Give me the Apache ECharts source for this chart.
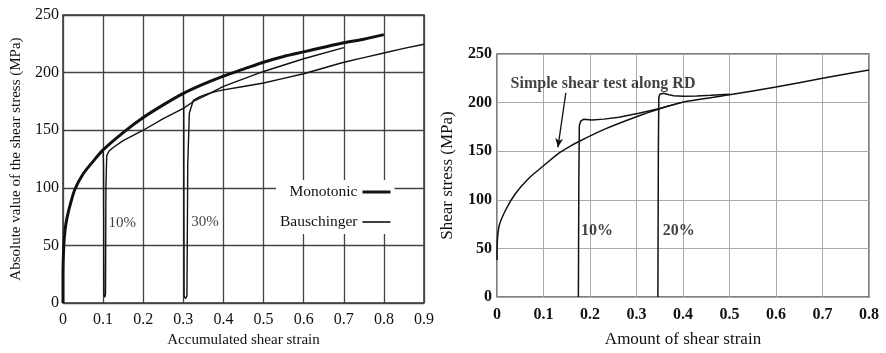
<!DOCTYPE html>
<html>
<head>
<meta charset="utf-8">
<script src="https://cdn.jsdelivr.net/npm/echarts@6/dist/echarts.min.js"></script>
<style>
html,body{margin:0;padding:0;background:#fff;}
#c{width:886px;height:353px;}
</style>
</head>
<body>
<div id="c"></div>
<script>
// ---------- Left panel: accumulated shear strain vs |shear stress| ----------
const leftXTicks = ['0','0.1','0.2','0.3','0.4','0.5','0.6','0.7','0.8','0.9'];
const leftMonoStrain = [0, 0, 0.002, 0.005, 0.01, 0.02, 0.03, 0.05, 0.075, 0.1, 0.15, 0.2, 0.25, 0.3, 0.35, 0.4, 0.45, 0.5, 0.55, 0.6, 0.65, 0.7, 0.75, 0.8];
const leftMonoStress = [0, 25, 50, 63, 74, 88, 99, 112, 123, 133, 148, 161, 172, 182, 190, 197, 203, 209, 214, 218, 222, 226, 229, 233];
const leftB10Strain = [0.1, 0.101, 0.102, 0.104, 0.106, 0.107, 0.109, 0.115, 0.125, 0.15, 0.2, 0.25, 0.3, 0.33, 0.36, 0.4, 0.5, 0.6, 0.7];
const leftB10Stress = [133, 120, 8, 5, 8, 100, 128, 132, 135, 141, 150, 160, 169, 176, 181, 188, 201, 212, 221.7];
const leftB30Strain = [0.3, 0.301, 0.302, 0.305, 0.309, 0.311, 0.315, 0.325, 0.34, 0.36, 0.38, 0.4, 0.45, 0.5, 0.55, 0.6, 0.65, 0.7, 0.75, 0.8, 0.85, 0.9];
const leftB30Stress = [182, 170, 6, 4, 6, 120, 165, 176, 179, 181.5, 183.5, 185, 188, 191, 195, 199, 204, 209, 213, 217, 221, 224.6];

// ---------- Right panel: amount of shear strain vs shear stress ----------
const rightMonoStrain = [0, 0, 0.004, 0.018, 0.039, 0.068, 0.1, 0.133, 0.155, 0.176, 0.233, 0.297, 0.348, 0.4, 0.5, 0.6, 0.7, 0.8];
const rightMonoStress = [38, 45, 72, 89, 106, 122, 135, 148, 154.5, 160, 173, 185, 193.5, 200.5, 208, 216, 225, 233.5];
const right10Strain = [0.175, 0.176, 0.177, 0.18, 0.186, 0.204, 0.23, 0.262, 0.305, 0.35, 0.4];
const right10Stress = [0, 120, 176, 181, 182.8, 182, 183, 185, 189, 194, 200.5];
const right20Strain = [0.346, 0.347, 0.348, 0.35, 0.358, 0.37, 0.38, 0.4, 0.43, 0.46, 0.5];
const right20Stress = [0, 150, 205, 208.5, 209.7, 208, 207, 206.5, 206.8, 207.5, 208.5];

const zip = (a, b) => a.map((v, i) => [v, b[i]]);
const SERIF = "'Liberation Serif', 'DejaVu Serif', serif";
const INK = '#111';

const chart = echarts.init(document.getElementById('c'), null, {renderer: 'canvas'});

const option = {
  animation: false,
  backgroundColor: '#fff',
  grid: [
    {left: 63, top: 15, width: 361, height: 292, show: true, borderColor: '#333', borderWidth: 1.5, backgroundColor: 'transparent'},
    {left: 497, top: 54, width: 372, height: 248, show: true, borderColor: '#555', borderWidth: 1.5, backgroundColor: 'transparent'}
  ],
  legend: {
    orient: 'vertical',
    left: 276, top: 180,
    align: 'right',
    itemWidth: 28, itemHeight: 12, itemGap: 14,
    backgroundColor: '#fff',
    padding: [4, 4, 4, 4],
    textStyle: {fontFamily: SERIF, fontSize: 15.5, color: INK},
    data: [
      {name: 'Monotonic', icon: 'path://M0,0M0,12M0,4.5H28V7.5H0Z', itemStyle: {color: INK}},
      {name: 'Bauschinger', icon: 'path://M0,0M0,12M0,5.2H28V6.8H0Z', itemStyle: {color: INK}}
    ]
  },
  xAxis: [
    {
      gridIndex: 0, type: 'value', min: 0, max: 0.9, interval: 0.1,
      name: 'Accumulated shear strain', nameLocation: 'middle', nameGap: 29,
      nameTextStyle: {fontFamily: SERIF, fontSize: 15, color: INK},
      axisLine: {show: false}, axisTick: {show: false},
      axisLabel: {margin: 9, fontFamily: SERIF, fontSize: 16, color: INK,
        formatter: (v) => leftXTicks[Math.round(v * 10)]},
      splitLine: {show: true, lineStyle: {color: '#444', width: 1.3}}
    },
    {
      gridIndex: 1, type: 'value', min: 0, max: 0.8, interval: 0.1,
      name: 'Amount of shear strain', nameLocation: 'middle', nameGap: 34,
      nameTextStyle: {fontFamily: SERIF, fontSize: 17, color: INK},
      axisLine: {show: false}, axisTick: {show: false},
      axisLabel: {margin: 10, fontFamily: SERIF, fontSize: 16, fontWeight: 'bold', color: INK,
        formatter: (v) => (Math.round(v * 10) / 10).toString()},
      splitLine: {show: true, lineStyle: {color: '#aaa', width: 1}}
    }
  ],
  yAxis: [
    {
      gridIndex: 0, type: 'value', min: 0, max: 250, interval: 50,
      name: 'Absolute value of the shear stress (MPa)', nameLocation: 'middle', nameGap: 39,
      nameTextStyle: {fontFamily: SERIF, fontSize: 15, color: INK},
      axisLine: {show: false}, axisTick: {show: false},
      axisLabel: {margin: 4, fontFamily: SERIF, fontSize: 16, color: INK},
      splitLine: {show: true, lineStyle: {color: '#444', width: 1.3}}
    },
    {
      gridIndex: 1, type: 'value', min: 0, max: 250, interval: 50,
      name: 'Shear stress (MPa)', nameLocation: 'middle', nameGap: 41,
      nameTextStyle: {fontFamily: SERIF, fontSize: 17, color: INK},
      axisLine: {show: false}, axisTick: {show: false},
      axisLabel: {margin: 5, fontFamily: SERIF, fontSize: 16, fontWeight: 'bold', color: INK},
      splitLine: {show: true, lineStyle: {color: '#aaa', width: 1}}
    }
  ],
  series: [
    {
      name: 'Bauschinger', type: 'line', xAxisIndex: 0, yAxisIndex: 0,
      data: zip(leftB10Strain, leftB10Stress), symbol: 'none',
      lineStyle: {color: INK, width: 1.4}, itemStyle: {color: INK}, z: 2
    },
    {
      name: 'Bauschinger', type: 'line', xAxisIndex: 0, yAxisIndex: 0,
      data: zip(leftB30Strain, leftB30Stress), symbol: 'none',
      lineStyle: {color: INK, width: 1.4}, itemStyle: {color: INK}, z: 2
    },
    {
      name: 'Monotonic', type: 'line', xAxisIndex: 0, yAxisIndex: 0,
      data: zip(leftMonoStrain, leftMonoStress), symbol: 'none', smooth: 0.3,
      lineStyle: {color: INK, width: 3}, itemStyle: {color: INK}, z: 3
    },
    {
      type: 'scatter', xAxisIndex: 0, yAxisIndex: 0, symbolSize: 0, silent: true,
      data: [[0.148, 69.4, '10%'], [0.354, 70.3, '30%']],
      label: {show: true, position: 'inside', formatter: (p) => p.value[2],
        fontFamily: SERIF, fontSize: 15, color: INK}
    },
    {
      type: 'line', xAxisIndex: 1, yAxisIndex: 1,
      data: zip(rightMonoStrain, rightMonoStress), symbol: 'none', smooth: 0.2,
      lineStyle: {color: INK, width: 1.5},
      markLine: {
        silent: true, symbol: ['none', 'arrow'], symbolSize: [6, 9],
        label: {show: false},
        lineStyle: {color: INK, width: 1.3, type: 'solid'},
        data: [[{coord: [0.148, 210]}, {coord: [0.131, 154]}]]
      }
    },
    {
      type: 'line', xAxisIndex: 1, yAxisIndex: 1,
      data: zip(right10Strain, right10Stress), symbol: 'none',
      lineStyle: {color: INK, width: 1.5}
    },
    {
      type: 'line', xAxisIndex: 1, yAxisIndex: 1,
      data: zip(right20Strain, right20Stress), symbol: 'none',
      lineStyle: {color: INK, width: 1.5}
    },
    {
      type: 'scatter', xAxisIndex: 1, yAxisIndex: 1, symbolSize: 0, silent: true,
      data: [[0.215, 68.5, '10%'], [0.391, 68.5, '20%'], [0.228, 218.8, 'Simple shear test along RD']],
      label: {show: true, position: 'inside', formatter: (p) => p.value[2],
        fontFamily: SERIF, fontSize: 16, fontWeight: 'bold', color: INK}
    }
  ]
};
chart.setOption(option);
</script>
</body>
</html>
